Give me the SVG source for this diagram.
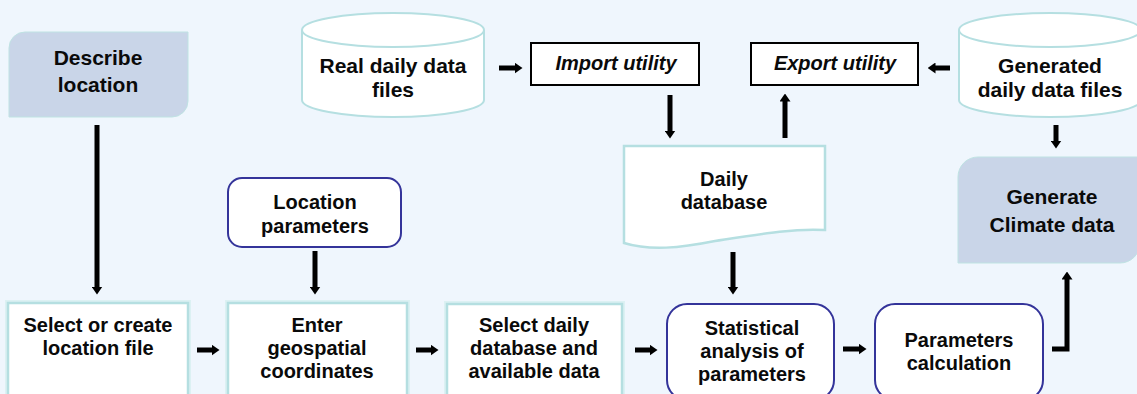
<svg xmlns="http://www.w3.org/2000/svg" width="1137" height="394" viewBox="0 0 1137 394">
  <defs>
    <marker id="head" markerUnits="userSpaceOnUse" viewBox="0 0 8 11" markerWidth="8" markerHeight="11" refX="0.5" refY="5.5" orient="auto">
      <path d="M0,0 L8,5.5 L0,11 Z" fill="#000"/>
    </marker>
  </defs>
  <style>
    text { font-family: "Liberation Sans", Arial, sans-serif; font-weight: bold; fill: #0a0a0a; text-anchor: middle; }
    .t20 { font-size: 20px; }
    .t21 { font-size: 21px; }
    .ital { font-style: italic; font-size: 20px; }
    .shade { fill: #c9d5e8; stroke: #bfe3e3; stroke-width: 1; }
    .glow { fill: none; stroke: #dcf1f3; stroke-width: 6; }
    .plain { fill: #fff; stroke: #b5dfe1; stroke-width: 2.5; }
    .round { fill: #fff; stroke: #34349a; stroke-width: 2; }
    .util { fill: #fff; stroke: #000; stroke-width: 2; }
    .drum { fill: #fff; stroke: #b5dfe1; stroke-width: 2; }
    .link { fill: none; stroke: #000; stroke-width: 5; marker-end: url(#head); }
  </style>

  <rect x="0" y="0" width="1137" height="394" fill="#eff6fd"/>

  <g id="describe-location">
    <path class="shade" d="M9,48 A16,16 0 0 1 25,32 L188,32 L188,101 A16,16 0 0 1 172,117 L9,117 Z"/>
    <text class="t21" x="98" y="65">Describe</text>
    <text class="t21" x="98" y="92">location</text>
  </g>

  <g id="real-daily-files">
    <path class="drum" d="M302,30 A91,17 0 0 1 484,30 L484,100 A91,17 0 0 1 302,100 Z"/>
    <path class="drum" d="M302,30 A91,17 0 0 0 484,30"/>
    <text class="t21" x="393" y="73">Real daily data</text>
    <text class="t21" x="393" y="97">files</text>
  </g>

  <g id="import-utility">
    <rect class="util" x="531" y="43" width="168" height="42"/>
    <text class="ital" x="616" y="70">Import utility</text>
  </g>

  <g id="export-utility">
    <rect class="util" x="751" y="43" width="167" height="42"/>
    <text class="ital" x="835" y="70">Export utility</text>
  </g>

  <g id="generated-daily-files">
    <path class="drum" d="M959,30 A91,17 0 0 1 1141,30 L1141,100 A91,17 0 0 1 959,100 Z"/>
    <path class="drum" d="M959,30 A91,17 0 0 0 1141,30"/>
    <text class="t21" x="1050" y="73">Generated</text>
    <text class="t21" x="1050" y="97">daily data files</text>
  </g>

  <g id="daily-database">
    <path class="plain" d="M624,146 L825,146 L825,230 C795,228 760,234 715,241 C680,248 650,251 624,243 Z"/>
    <text class="t20" x="724" y="186">Daily</text>
    <text class="t20" x="724" y="209">database</text>
  </g>

  <g id="generate-climate">
    <path class="shade" d="M958,177 A20,20 0 0 1 978,157 L1140,157 L1140,243 A20,20 0 0 1 1120,263 L958,263 Z"/>
    <text class="t21" x="1052" y="204">Generate</text>
    <text class="t21" x="1052" y="232">Climate data</text>
  </g>

  <g id="location-parameters">
    <rect class="round" x="228" y="178" width="173" height="69" rx="14"/>
    <text class="t20" x="315" y="209">Location</text>
    <text class="t20" x="315" y="233">parameters</text>
  </g>

  <g id="select-location-file">
    <rect class="glow" x="8" y="303" width="180" height="100"/>
    <rect class="plain" x="8" y="303" width="180" height="100"/>
    <text class="t20" x="98" y="332">Select or create</text>
    <text class="t20" x="98" y="355">location file</text>
  </g>

  <g id="enter-coordinates">
    <rect class="glow" x="228" y="303" width="179" height="100"/>
    <rect class="plain" x="228" y="303" width="179" height="100"/>
    <text class="t20" x="317" y="332">Enter</text>
    <text class="t20" x="317" y="355">geospatial</text>
    <text class="t20" x="317" y="378">coordinates</text>
  </g>

  <g id="select-daily-database">
    <rect class="glow" x="447" y="304" width="175" height="100"/>
    <rect class="plain" x="447" y="304" width="175" height="100"/>
    <text class="t20" x="534" y="332">Select daily</text>
    <text class="t20" x="534" y="355">database and</text>
    <text class="t20" x="534" y="378">available data</text>
  </g>

  <g id="statistical-analysis">
    <rect class="round" x="667" y="304" width="167" height="96" rx="20"/>
    <text class="t20" x="752" y="335">Statistical</text>
    <text class="t20" x="752" y="358">analysis of</text>
    <text class="t20" x="752" y="381">parameters</text>
  </g>

  <g id="parameters-calculation">
    <rect class="round" x="875" y="304" width="168" height="96" rx="20"/>
    <text class="t20" x="959" y="347">Parameters</text>
    <text class="t20" x="959" y="370">calculation</text>
  </g>

  <g id="connectors">
    <path class="link" d="M97,125 L97,287"/>
    <path class="link" d="M315,251 L315,287"/>
    <path class="link" d="M197,350 L212,350"/>
    <path class="link" d="M416,350 L431,350"/>
    <path class="link" d="M635,350 L650,350"/>
    <path class="link" d="M843,349 L859,349"/>
    <path class="link" d="M1052,349 L1067,349 L1067,279"/>
    <path class="link" d="M733,252 L733,287"/>
    <path class="link" d="M499,68 L515,68"/>
    <path class="link" d="M670,95 L670,131"/>
    <path class="link" d="M785,138 L785,101"/>
    <path class="link" d="M950,68 L935,68"/>
    <path class="link" d="M1056,125 L1056,141"/>
  </g>
</svg>
